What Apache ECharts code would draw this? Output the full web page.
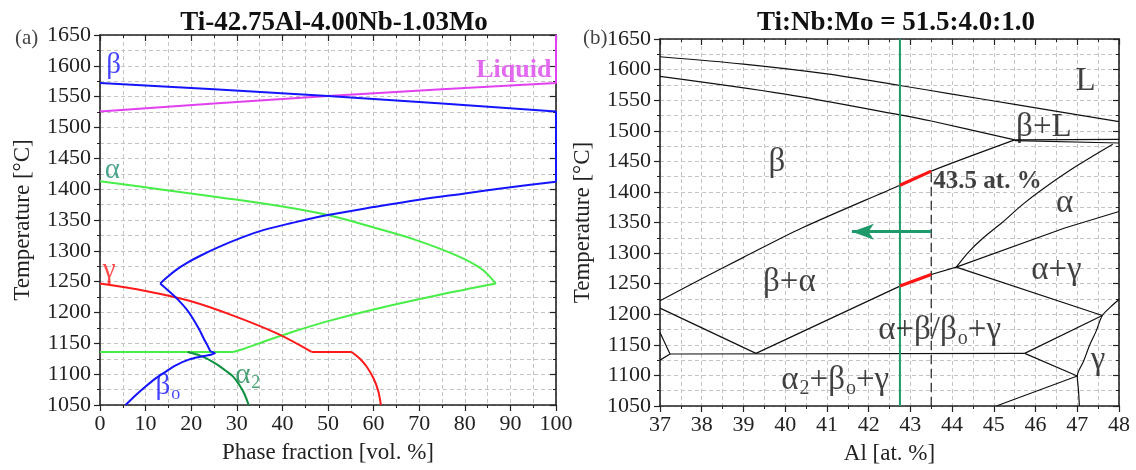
<!DOCTYPE html>
<html><head><meta charset="utf-8">
<script src="https://cdn.jsdelivr.net/npm/echarts@6/dist/echarts.min.js"></script>
<style>html,body{margin:0;padding:0;background:#fff}#c{width:1136px;height:470px}</style>
</head><body><div id="c"></div>
<script>
// ===== Panel (a): phase fraction [vol. %] vs temperature [°C] =====
const betaTop = [[0,1572],[25,1562],[50,1551],[75,1539],[100,1526],[100,1412]];
const betaLower = [[100,1412],[90,1403],[80,1393],[70,1383],[60,1371],[50,1358],[42,1345],[36,1334],[30.9,1321],[26,1306],[22,1292],[19,1280],[16.5,1268],[14.7,1257],[13.2,1247]];
const betaDown = [[13.2,1247],[15.2,1234],[17.2,1220],[19,1205],[20.4,1190],[21.8,1172],[22.8,1157],[23.6,1146],[24.2,1137]];
const betaO = [[24.2,1137],[25.2,1134],[22.5,1129],[19.6,1124],[16.5,1114],[14,1102],[12,1092],[10,1080],[8,1067],[5.6,1050]];
const liquidCurve = [[0,1526],[25,1539],[50,1551],[75,1562],[100,1572],[100,1650]];
const alphaUpper = [[0,1413],[13,1400],[26,1387],[40,1372],[50,1358],[60.4,1337],[68.7,1319],[78,1293],[83.6,1271],[86.8,1247]];
const alphaLower = [[86.8,1247],[74,1228],[60,1205],[50,1186],[42,1168],[36,1153],[31.5,1141],[29.2,1136]];
const alphaFlat = [[29.2,1136],[0,1136]];
const gammaUpper = [[0,1247],[10,1235],[19.6,1219],[29.2,1195],[38.8,1166],[46.4,1136]];
const gammaFlat = [[46.4,1136],[55.2,1136]];
const gammaLower = [[55.2,1136],[57,1125],[58.5,1112],[60,1093],[61,1073],[61.6,1050]];
const alpha2Curve = [[19.2,1136],[22,1130],[25.2,1118],[27.5,1106],[29.2,1096],[30.6,1082],[31.6,1069],[32.6,1050]];
const leftLabels = {
  beta: [3,1600,'β'], liquid: [99,1592,'Liquid'], alpha: [2.7,1431,'α'],
  gamma: [2,1268,'γ'], alpha2: [32.4,1098,'{m|α}{s|2}'], betaO: [14.9,1080,'{m|β}{s|o}']
};

// ===== Panel (b): Al [at. %] vs temperature [°C] =====
const liquidusLine = [[37,1621],[39,1609],[41,1593],[42.75,1574],[44,1560],[45.5,1543],[48,1515]];
const solidusLine = [[37,1589],[40,1560],[42.75,1526],[43.5,1516],[45.5,1485]];
const peritecticA = [[45.5,1485],[48,1486]];
const peritecticB = [[45.5,1484],[48,1480]];
const betaTransus = [[37,1222],[38,1258],[39,1293],[40.4,1341],[42.75,1411],[43.5,1434],[45.5,1485]];
const betaAlphaLow = [[37,1210],[39.3,1136]];
const alphaBetaLine = [[39.3,1136],[42.75,1246],[43.5,1265],[44.1,1277]];
const alphaGammaUp = [[44.1,1277],[46.7,1341],[48,1368]];
const alphaTransus = [[44.1,1277],[44.4,1302],[44.75,1325],[45.2,1350],[45.7,1380],[46.2,1406],[47,1443],[47.85,1478]];
const alphaGammaLow = [[44.1,1277],[47.6,1198]];
const gammaBranch = [[45.74,1136],[47.6,1198]];
const eutectoid = [[37.24,1135],[45.74,1136]];
const leftWedge = [[37,1170],[37.24,1135],[37,1125]];
const lowBranch = [[45.74,1136],[47,1099]];
const gammaSolvus = [[48,1224],[47.8,1212],[47.6,1198],[47.45,1172],[47.3,1150],[47.15,1123],[47,1099],[47.03,1075],[47.05,1050]];
const bottomBranch = [[45.06,1050],[47,1099]];
const alloyLine = [[42.75,1050],[42.75,1650]];
const dashedLine = [[43.5,1050],[43.5,1434]];
const redSegments = [[[42.75,1411],[43.5,1434]],[[42.75,1246],[43.5,1265]]];
const arrowFrom = [43.5,1335], arrowTo = [41.6,1335];
const rightLabels = [
  [47.2,1581,'L'],[46.2,1505,'β+L'],[39.8,1449,'β'],[46.7,1381,'α'],[46.5,1272,'α+γ'],
  [40.1,1253,'β+α'],[43.7,1174,'{m|α+β/β}{s|o}{m|+γ}'],[41.2,1092,'{m|α}{s|2}{m|+β}{s|o}{m|+γ}'],[47.5,1125,'γ']
];
const noteLabel = [43.55,1417,'43.5 at. %'];

const FF = 'Liberation Serif';
const gridStyle = {show:true, lineStyle:{type:[4,3], color:'#c4c4c4', width:1}};
function xAx(i, min, max, step, name, top){
  return {type:'value', gridIndex:i, min, max, interval:step, position: top?'top':'bottom',
    name: top?'':name, nameLocation:'middle', nameGap:36,
    nameTextStyle:{fontFamily:FF, fontSize:23, color:'#222'},
    axisLine:{show:true, onZero:false, lineStyle:{color:'#222', width:1.6}},
    axisTick:{show:true, inside:!!top, length:6, lineStyle:{color:'#222', width:1.2}},
    minorTick:{show:true, splitNumber:2, length:3, lineStyle:{color:'#222'}},
    axisLabel:{show:!top, fontFamily:FF, fontSize:22, color:'#222', margin:8, formatter:v=>String(v)},
    splitLine: top?{show:false}:gridStyle, minorSplitLine: top?{show:false}:gridStyle};
}
function yAx(i, name, right, gap){
  return {type:'value', gridIndex:i, min:1050, max:1650, interval:50, position: right?'right':'left',
    name: right?'':name, nameLocation:'middle', nameGap:gap, nameRotate:90,
    nameTextStyle:{fontFamily:FF, fontSize:23, color:'#222'},
    axisLine:{show:true, onZero:false, lineStyle:{color:'#222', width:1.6}},
    axisTick:{show:true, inside:!!right, length:6, lineStyle:{color:'#222', width:1.2}},
    minorTick:{show:true, splitNumber:2, length:3, lineStyle:{color:'#222'}},
    axisLabel:{show:!right, fontFamily:FF, fontSize:22, color:'#222', margin:9, formatter:v=>String(v)},
    splitLine: right?{show:false}:gridStyle, minorSplitLine: right?{show:false}:gridStyle};
}
function curve(data, color, w, xi, yi, z, smooth){
  return {type:'line', data, xAxisIndex:xi, yAxisIndex:yi, showSymbol:false, symbol:'none',
    smooth: smooth||false, lineStyle:{color, width:w}, z:z||3, silent:true, animation:false};
}
function rich(size, color, weight){
  return {m:{fontFamily:FF, fontSize:size, color, fontWeight:weight||'normal', lineHeight:size+4},
          s:{fontFamily:FF, fontSize:Math.round(size*0.62), color, lineHeight:Math.round(size*0.62), verticalAlign:'bottom', padding:[0,0,0,1]}};
}
function textPt(p, color, size, xi, yi, opts){
  opts = opts||{};
  const txt = p[2];
  return {type:'scatter', xAxisIndex:xi, yAxisIndex:yi, symbolSize:0, silent:true, animation:false, z:10,
    data:[[p[0],p[1]]],
    label:{show:true, position: opts.position||'inside', distance: opts.distance||0, align: opts.align||'center',
      fontFamily:FF, fontSize:size, color, fontWeight:opts.weight||'normal',
      formatter: txt.indexOf('{')>=0 ? txt : '{m|'+txt+'}',
      rich: rich(size, color, opts.weight)}};
}

const BLUE='#1414ff', MAG='#e040f0', LG='#48ee48', RED='#ff1a1a', DG='#0c9040';
const series = [];
// left panel
series.push(curve(liquidCurve,MAG,2,0,0));
series.push(curve(alphaUpper,LG,2,0,0,3,0.35));
series.push(curve(alphaLower,LG,2,0,0,3,0.35));
series.push(curve(alphaFlat,LG,2,0,0));
series.push(curve(gammaUpper,RED,2,0,0,3,0.35));
series.push(curve(gammaFlat,RED,2,0,0));
series.push(curve(gammaLower,RED,2,0,0,3,0.35));
series.push(curve(alpha2Curve,DG,2,0,0,3,0.35));
series.push(curve(betaTop,BLUE,2,0,0,4));
series.push(curve(betaLower,BLUE,2,0,0,4,0.35));
series.push(curve(betaDown,BLUE,2,0,0,4,0.35));
series.push(curve(betaO,BLUE,2,0,0,4,0.3));
series.push(textPt(leftLabels.beta,BLUE,29,0,0));
series.push(textPt(leftLabels.liquid,'#dd44ee',26,0,0,{weight:'bold', position:'left', align:'right'}));
series.push(textPt(leftLabels.alpha,'#1e9070',29,0,0));
series.push(textPt(leftLabels.gamma,RED,29,0,0));
series.push(textPt(leftLabels.alpha2,'#1a8a50',29,0,0));
series.push(textPt(leftLabels.betaO,BLUE,29,0,0));
// right panel
[liquidusLine, solidusLine, betaTransus, alphaTransus, gammaSolvus].forEach(l=>series.push(curve(l,'#111',1.2,2,2,3,0.3)));
[peritecticA, peritecticB, betaAlphaLow, alphaBetaLine, alphaGammaUp, alphaGammaLow, gammaBranch, eutectoid, leftWedge, lowBranch, bottomBranch]
  .forEach(l=>series.push(curve(l,'#111',1.2,2,2)));
series.push({type:'line', data:dashedLine, xAxisIndex:2, yAxisIndex:2, showSymbol:false, symbol:'none', silent:true, animation:false,
  lineStyle:{color:'#222', width:1.2, type:[9,5]}, z:4});
series.push(curve(alloyLine,'#1f9a6a',2,2,2,5));
redSegments.forEach(s=>series.push(curve(s,'#ff1414',3.2,2,2,6)));
series.push({type:'line', data:[arrowFrom, arrowTo], xAxisIndex:2, yAxisIndex:2, showSymbol:false, symbol:'none', silent:true, animation:false,
  lineStyle:{color:'#1f9a6a', width:0}, z:6,
  markLine:{silent:true, animation:false, symbol:['none','arrow'], symbolSize:[12,22],
    lineStyle:{color:'#1f9a6a', width:3, type:'solid'}, label:{show:false},
    data:[[{coord:arrowFrom},{coord:arrowTo}]]}});
rightLabels.forEach(p=>series.push(textPt(p,'#111',33,2,2)));
series.push(textPt(noteLabel,'#111',25,2,2,{weight:'bold', position:'right', align:'left', distance:0}));

const option = {
  backgroundColor:'#fff', animation:false,
  title:[
    {text:'Ti-42.75Al-4.00Nb-1.03Mo', left:329, top:5, textAlign:'center', textStyle:{fontFamily:FF, fontSize:27, fontWeight:'bold', color:'#111'}},
    {text:'Ti:Nb:Mo = 51.5:4.0:1.0', left:891, top:5, textAlign:'center', textStyle:{fontFamily:FF, fontSize:27, fontWeight:'bold', color:'#111'}},
    {text:'(a)', left:10, top:23, textStyle:{fontFamily:FF, fontSize:21, fontWeight:'normal', color:'#444'}},
    {text:'(b)', left:578, top:23, textStyle:{fontFamily:FF, fontSize:21, fontWeight:'normal', color:'#444'}}
  ],
  grid:[
    {left:100, right:580, top:35, bottom:65, containLabel:false},
    {left:660, right:17, top:39, bottom:61, containLabel:false}
  ],
  xAxis:[
    xAx(0,0,100,10,'Phase fraction [vol. %]',false), xAx(0,0,100,10,'',true),
    xAx(1,37,48,1,'Al [at. %]',false), xAx(1,37,48,1,'',true)
  ],
  yAxis:[
    yAx(0,'Temperature [°C]',false,66), yAx(0,'',true,0),
    yAx(1,'Temperature [°C]',false,66), yAx(1,'',true,0)
  ],
  series
};
const chart = echarts.init(document.getElementById('c'), null, {renderer:'canvas'});
chart.setOption(option);
</script></body></html>
